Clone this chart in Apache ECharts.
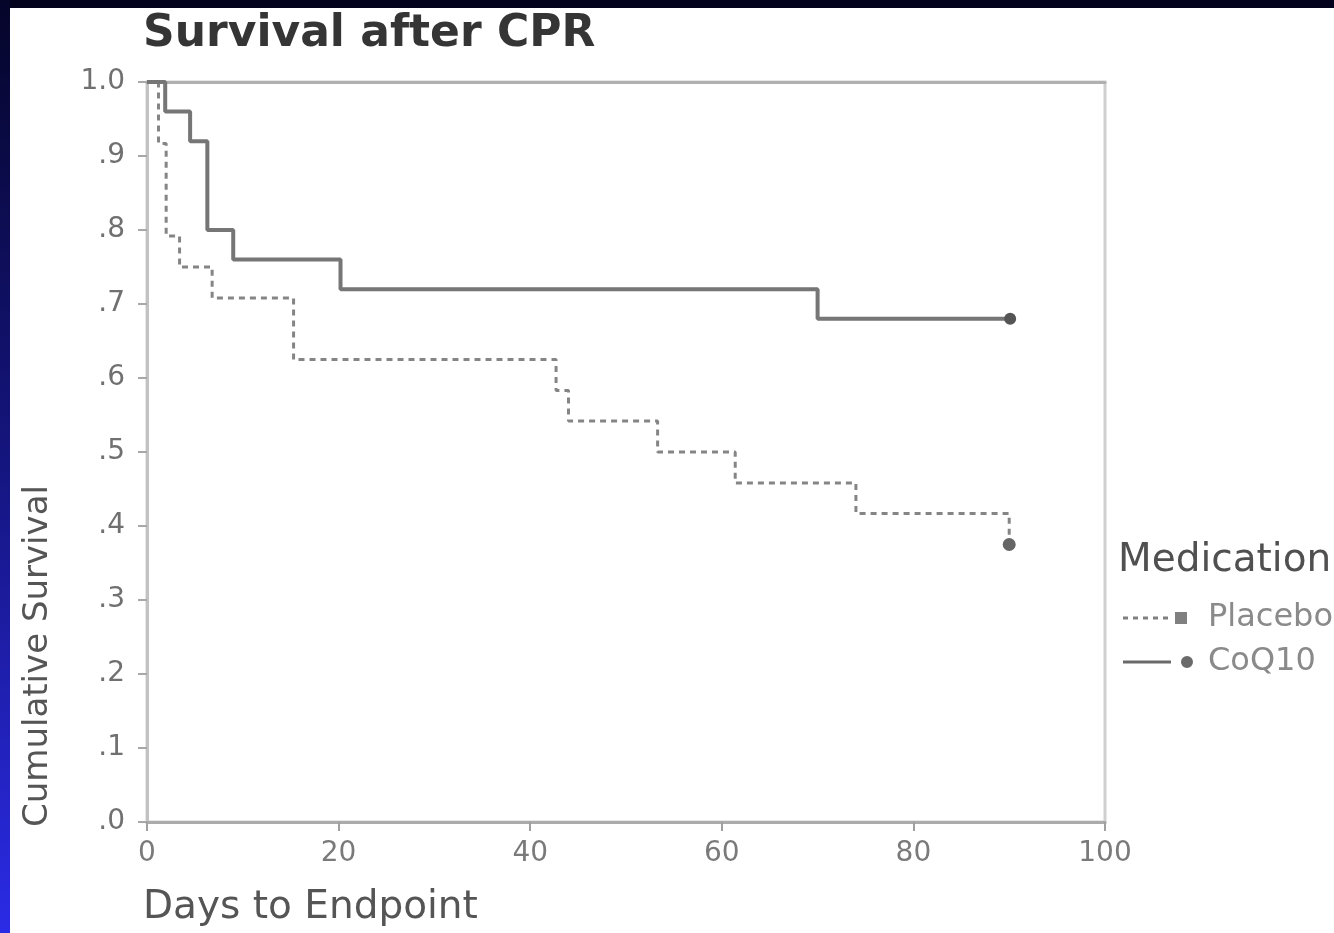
<!DOCTYPE html>
<html>
<head>
<meta charset="utf-8">
<script src="https://cdn.jsdelivr.net/npm/echarts@6/dist/echarts.min.js"></script>
<style>
html,body{margin:0;padding:0;background:#ffffff;}
#chart{width:1334px;height:933px;}
</style>
</head>
<body>
<div id="chart"></div>
<script>
// ---- data ----
const titleText = 'Survival after CPR';
const xAxisTitle = 'Days to Endpoint';
const yAxisTitle = 'Cumulative Survival';
const legendTitle = 'Medication';
const seriesNames = ['Placebo', 'CoQ10'];

const xTickValues = [0, 20, 40, 60, 80, 100];
const yTickLabels = ['.0', '.1', '.2', '.3', '.4', '.5', '.6', '.7', '.8', '.9', '1.0'];

const placeboDays = [0, 1.2, 2.0, 3.4, 6.8, 15.3, 42.7, 44.0, 53.3, 61.4, 74.0, 90.0];
const placeboSurv = [1.0, 0.917, 0.792, 0.750, 0.708, 0.625, 0.583, 0.542, 0.500, 0.458, 0.417, 0.375];

const coq10Days = [0, 1.9, 4.5, 6.3, 9.0, 20.2, 70.0, 90.1];
const coq10Surv = [1.0, 0.96, 0.92, 0.80, 0.76, 0.72, 0.68, 0.68];

// ---- chart ----
const chart = echarts.init(document.getElementById('chart'), null, {renderer: 'canvas'});

function pairs(xs, ys) { return xs.map((x, i) => [x, ys[i]]); }

const FONT = 'DejaVu Sans';
const dashPath = 'path://' +
  'M0,4.5h5v3h-5Z M10,4.5h5v3h-5Z M20,4.5h5v3h-5Z M30,4.5h5v3h-5Z M40,4.5h5v3h-5Z ' +
  'M52,0h12v12h-12Z M0,0h0.01v0.01h-0.01Z M69.99,11.99h0.01v0.01h-0.01Z';
const solidPath = 'path://' +
  'M0,4.5h48v3h-48Z M58,6A6,6 0 1,0 70,6A6,6 0 1,0 58,6Z M0,0h0.01v0.01h-0.01Z';

const option = {
  animation: false,
  backgroundColor: '#ffffff',
  grid: {
    left: 147, right: 229, top: 82, bottom: 111,
    show: true, borderColor: '#cfcfcf', borderWidth: 3, backgroundColor: 'transparent'
  },
  xAxis: [{
    type: 'value', min: 0, max: 100, interval: 20,
    axisLine: {show: true, lineStyle: {color: '#ababab', width: 3}},
    axisTick: {show: true, length: 9, lineStyle: {color: '#a0a0a0', width: 2}},
    axisLabel: {
      margin: 18, fontFamily: FONT, fontSize: 28, color: '#7a7a7a',
      formatter: v => String(xTickValues[xTickValues.indexOf(v)])
    },
    splitLine: {show: false}
  }, {
    type: 'value', min: 0, max: 100, position: 'top',
    axisLine: {show: true, lineStyle: {color: '#b0b0b0', width: 3}},
    axisTick: {show: false}, axisLabel: {show: false}, splitLine: {show: false}
  }],
  yAxis: {
    type: 'value', min: 0, max: 1, interval: 0.1,
    axisLine: {show: true, lineStyle: {color: '#c2c2c2', width: 3}},
    axisTick: {show: true, length: 9, lineStyle: {color: '#a8a8a8', width: 2}},
    axisLabel: {
      margin: 22, fontFamily: FONT, fontSize: 28, color: '#707070',
      formatter: v => yTickLabels[Math.round(v * 10)]
    },
    splitLine: {show: false}
  },
  legend: {
    orient: 'vertical', left: 1118, top: 597,
    itemWidth: 70, itemHeight: 12, itemGap: 12,
    selectedMode: false,
    textStyle: {fontFamily: FONT, fontSize: 32, lineHeight: 32, color: '#8a8a8a', padding: [0, 0, 0, 10]},
    data: [
      {name: seriesNames[0], icon: dashPath, itemStyle: {color: '#808080', borderWidth: 0}},
      {name: seriesNames[1], icon: solidPath, itemStyle: {color: '#6a6a6a', borderWidth: 0}}
    ]
  },
  graphic: [
    {type: 'rect', left: 0, top: 0, shape: {width: 1334, height: 8}, style: {fill: '#03031d'}, silent: true},
    {type: 'rect', left: 0, top: 0, shape: {width: 10, height: 933}, silent: true,
      style: {fill: new echarts.graphic.LinearGradient(0, 0, 0, 1, [
        {offset: 0, color: '#05052a'}, {offset: 0.5, color: '#151580'}, {offset: 1, color: '#2b2be6'}
      ])}},
    {type: 'text', x: 143, y: 35, silent: true,
      style: {text: titleText, fontFamily: FONT, fontWeight: 'bold', fontSize: 44, fill: '#353535',
        textAlign: 'left', textVerticalAlign: 'middle'}},
    {type: 'text', x: 143, y: 908, silent: true,
      style: {text: xAxisTitle, fontFamily: FONT, fontSize: 39, fill: '#555555',
        textAlign: 'left', textVerticalAlign: 'middle'}},
    {type: 'text', x: 38, y: 656, rotation: Math.PI / 2, silent: true,
      style: {text: yAxisTitle, fontFamily: FONT, fontSize: 34, fill: '#555555',
        textAlign: 'center', textVerticalAlign: 'middle'}},
    {type: 'text', x: 1118, y: 561, silent: true,
      style: {text: legendTitle, fontFamily: FONT, fontSize: 39, fill: '#505050',
        textAlign: 'left', textVerticalAlign: 'middle'}}
  ],
  series: [
    {
      name: seriesNames[0], type: 'line', step: 'end',
      data: pairs(placeboDays, placeboSurv),
      lineStyle: {color: '#858585', width: 3, type: [6, 5]},
      itemStyle: {color: '#666666'},
      symbol: 'circle',
      symbolSize: (v, p) => (p.dataIndex === placeboDays.length - 1 ? 13 : 0),
      showSymbol: true, showAllSymbol: true, z: 3
    },
    {
      name: seriesNames[1], type: 'line', step: 'end',
      data: pairs(coq10Days, coq10Surv),
      lineStyle: {color: '#767676', width: 4},
      itemStyle: {color: '#555555'},
      symbol: 'circle',
      symbolSize: (v, p) => (p.dataIndex === coq10Days.length - 1 ? 12 : 0),
      showSymbol: true, showAllSymbol: true, z: 4
    }
  ]
};
chart.setOption(option);
</script>
</body>
</html>
